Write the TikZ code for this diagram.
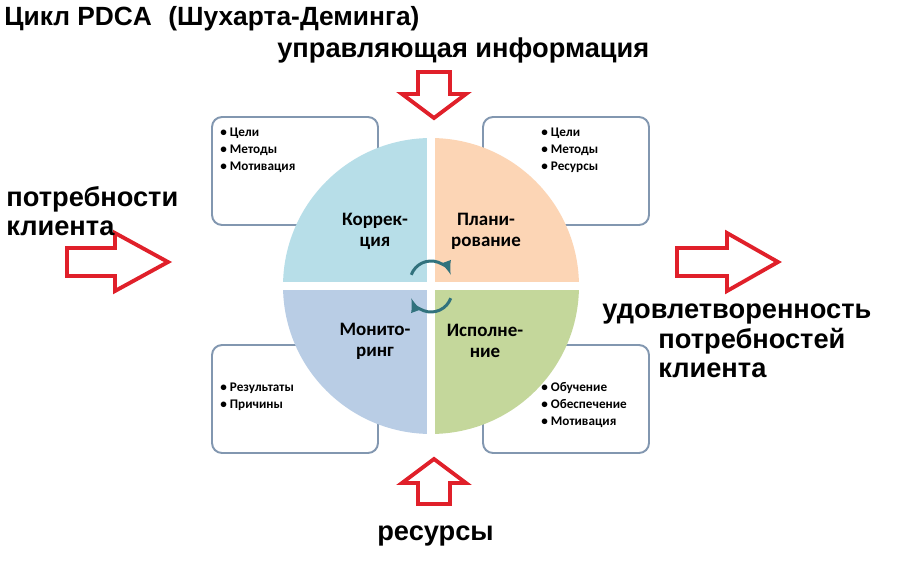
\documentclass[tikz,border=0pt]{standalone}
\usepackage{fontspec}
\setmainfont{Liberation Sans}
\newfontfamily\calfont{Carlito}
\usepackage{tikz}
\usetikzlibrary{arrows}

\definecolor{qkor}{HTML}{B7DEE8}
\definecolor{qpla}{HTML}{FCD5B5}
\definecolor{qmon}{HTML}{B9CDE5}
\definecolor{qisp}{HTML}{C4D79B}
\definecolor{boxc}{HTML}{8297B0}
\definecolor{arrred}{HTML}{E0202A}
\definecolor{cycc}{HTML}{31727D}

\begin{document}
\begin{tikzpicture}
		[x=0.02cm,y=-0.02cm,
		big/.style={font=\fontsize{15.5}{18}\selectfont\bfseries,inner sep=0,anchor=base west},
		itm/.style={font=\calfont\bfseries\fontsize{7.5}{9}\selectfont,inner sep=0,anchor=base west},
		q/.style={font=\calfont\bfseries\fontsize{10.8}{12}\selectfont,align=center,inner sep=0},
		box/.style={draw=boxc,line width=1.1pt,rounded corners=0.2cm,fill=white,minimum width=3.32cm,minimum height=2.16cm},
		blk/.style={draw=arrred,line width=2.2pt,fill=white,line join=miter},
		cyc/.style={draw=cycc,line width=1.7pt,-latex}]

		\useasboundingbox (0,0) rectangle (915,571);

		% boxes behind the circle
		\node[box] (bkor) at (295,171) {};
		\node[box] (bpla) at (566,171) {};
		\node[box] (bmon) at (295,399) {};
		\node[box] (bisp) at (566,399) {};

		% the four quarters
		\begin{scope}
			\clip (431,286) circle [radius=2.96cm];
			\fill[qkor] (270,120) rectangle (427,282);
			\fill[qpla] (435,120) rectangle (600,282);
			\fill[qmon] (270,290) rectangle (427,450);
			\fill[qisp] (435,290) rectangle (600,450);
		\end{scope}

		\node[q] (kor) at (375,231) {Коррек-\\ция};
		\node[q] (pla) at (486,231) {Плани-\\рование};
		\node[q] (mon) at (375,341) {Монито-\\ринг};
		\node[q] (isp) at (485,341) {Исполне-\\ние};

		\coordinate (ctop) at (431,282);
		\coordinate (cbot) at (431,291);
		\draw[cyc] (ctop) ++(200:21) arc (200:340:21);
		\draw[cyc] (cbot) ++(20:21) arc (20:160:21);

		\node[itm] (kor1) at (220,136) {\textbullet\ Цели};
		\node[itm] (kor2) at (220,153) {\textbullet\ Методы};
		\node[itm] (kor3) at (220,170) {\textbullet\ Мотивация};

		\node[itm] (pla1) at (541,136) {\textbullet\ Цели};
		\node[itm] (pla2) at (541,153) {\textbullet\ Методы};
		\node[itm] (pla3) at (541,170) {\textbullet\ Ресурсы};

		\node[itm] (mon1) at (220,391) {\textbullet\ Результаты};
		\node[itm] (mon2) at (220,408) {\textbullet\ Причины};

		\node[itm] (isp1) at (541,391) {\textbullet\ Обучение};
		\node[itm] (isp2) at (541,408) {\textbullet\ Обеспечение};
		\node[itm] (isp3) at (541,425) {\textbullet\ Мотивация};

		% block arrows
		\draw[blk] (418,72) -- (450,72) -- (450,94) -- (466,94) -- (434,118) -- (402,94) -- (418,94) -- cycle;
		\draw[blk] (434,459) -- (466,483) -- (450,483) -- (450,504) -- (418,504) -- (418,483) -- (402,483) -- cycle;
		\draw[blk] (67,248) -- (115,248) -- (115,233) -- (168,262) -- (115,291) -- (115,276) -- (67,276) -- cycle;
		\draw[blk] (677,248) -- (727,248) -- (727,233) -- (778,262) -- (727,291) -- (727,276) -- (677,276) -- cycle;

		\node[big,font=\fontsize{15}{18}\selectfont\bfseries] (title) at (4,26) {Цикл PDCA};
		\node[big,font=\fontsize{15}{18}\selectfont\bfseries] (titlesub) at (168,26) {(Шухарта-Деминга)};
		\node[big] (upr) at (277,58) {управляющая информация};
		\node[big] (potr1) at (6,206) {потребности};
		\node[big] (potr2) at (6,235) {клиента};
		\node[big] (udov1) at (602,318) {удовлетворенность};
		\node[big] (udov2) at (658,348) {потребностей};
		\node[big] (udov3) at (658,377) {клиента};
		\node[big] (res) at (377,540) {ресурсы};
\end{tikzpicture}
\end{document}
